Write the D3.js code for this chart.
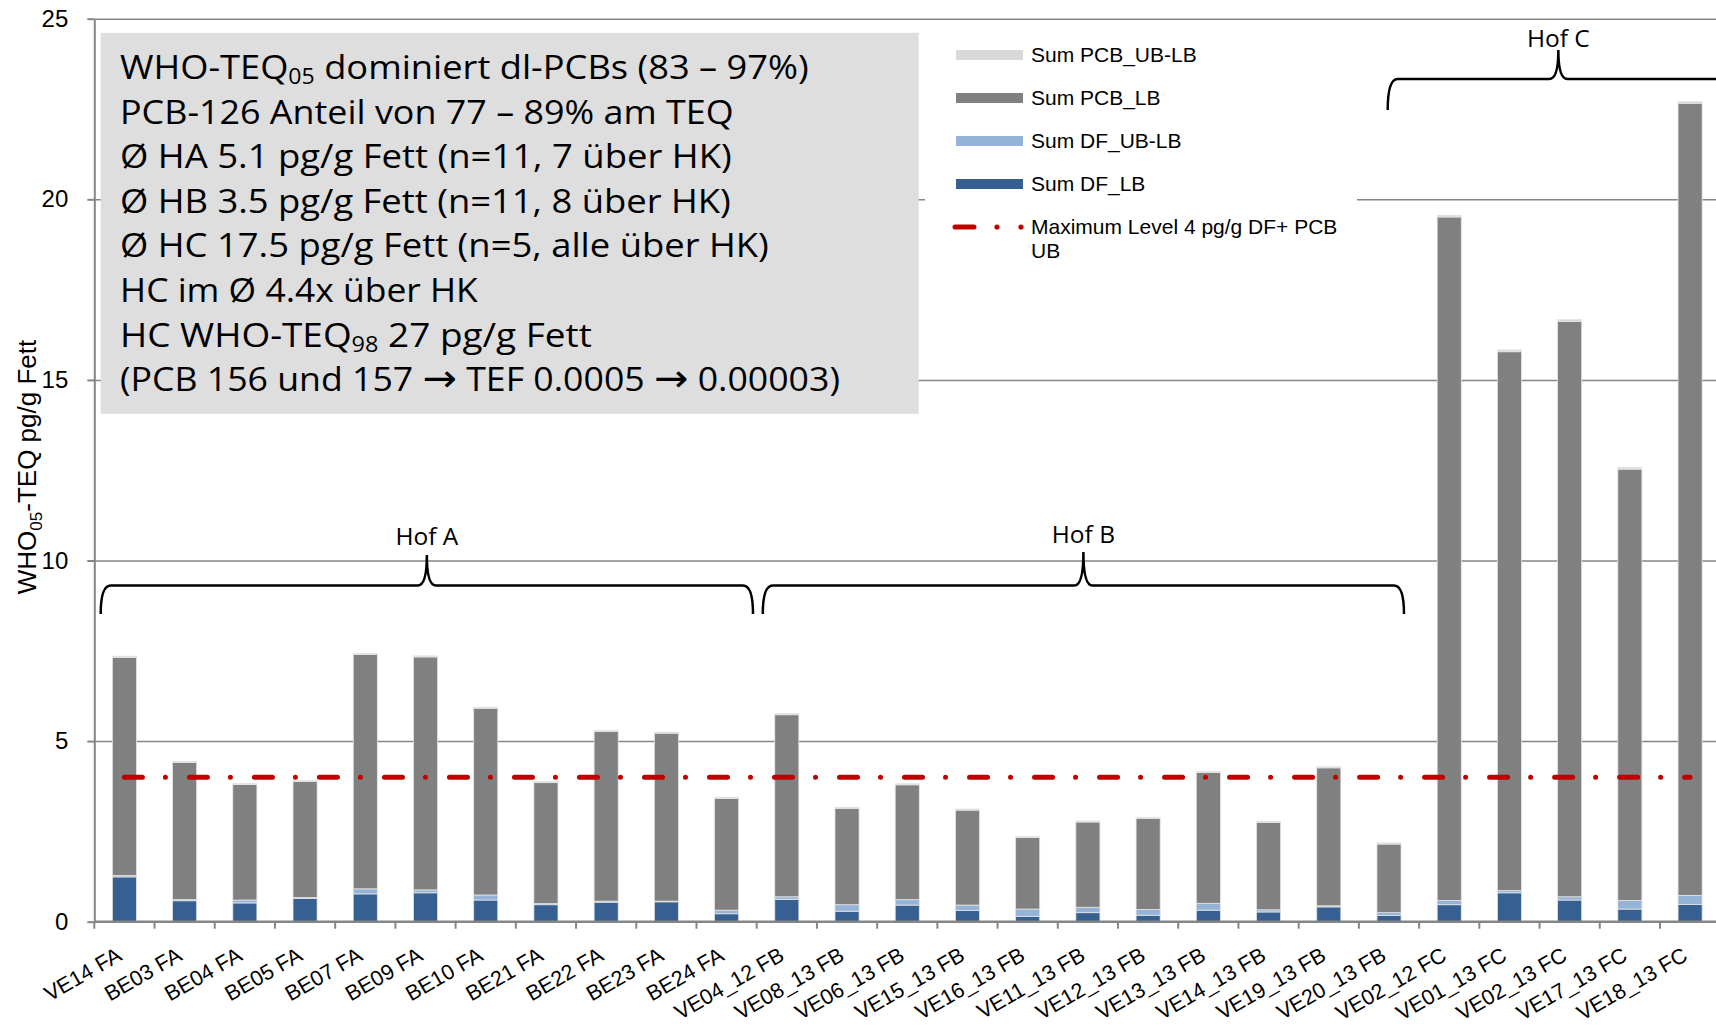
<!DOCTYPE html>
<html>
<head>
<meta charset="utf-8">
<script src="https://cdn.jsdelivr.net/npm/d3@7"></script>
<style>
body { margin: 0; background: #fff; overflow: hidden; }
svg { display: block; }
</style>
</head>
<body>
<script>
// sample ids, farms A (FA), B (FB), C (FC)
var categories = ["VE14 FA", "BE03 FA", "BE04 FA", "BE05 FA", "BE07 FA", "BE09 FA", "BE10 FA",
    "BE21 FA", "BE22 FA", "BE23 FA", "BE24 FA", "VE04_12 FB", "VE08_13 FB", "VE06_13 FB",
    "VE15_13 FB", "VE16_13 FB", "VE11_13 FB", "VE12_13 FB", "VE13_13 FB", "VE14_13 FB",
    "VE19_13 FB", "VE20_13 FB", "VE02_12 FC", "VE01_13 FC", "VE02_13 FC", "VE17_13 FC", "VE18_13 FC"];

var dfLB = [1.24, 0.58, 0.52, 0.64, 0.77, 0.80, 0.60, 0.47, 0.54, 0.55, 0.22, 0.62, 0.29, 0.46,
    0.31, 0.15, 0.25, 0.18, 0.32, 0.27, 0.41, 0.17, 0.47, 0.80, 0.60, 0.35, 0.48];
var dfUBLB = [0.04, 0.03, 0.08, 0.03, 0.14, 0.08, 0.14, 0.03, 0.03, 0.02, 0.10, 0.07, 0.18, 0.15,
    0.15, 0.20, 0.15, 0.16, 0.19, 0.06, 0.03, 0.08, 0.12, 0.06, 0.09, 0.24, 0.25];
var pcbLB = [6.04, 3.80, 3.20, 3.21, 6.49, 6.45, 5.17, 3.35, 4.70, 4.65, 3.09, 5.04, 2.67, 3.18,
    2.63, 1.98, 2.36, 2.52, 3.62, 2.42, 3.82, 1.90, 18.92, 14.92, 15.93, 11.94, 21.93];
var pcbUBLB = [0.03, 0.03, 0.03, 0.03, 0.03, 0.03, 0.03, 0.03, 0.03, 0.03, 0.04, 0.03, 0.03, 0.03,
    0.03, 0.03, 0.03, 0.03, 0.03, 0.03, 0.03, 0.03, 0.05, 0.05, 0.05, 0.05, 0.05];
var maxLevel = [4, 4, 4, 4, 4, 4, 4, 4, 4, 4, 4, 4, 4, 4, 4, 4, 4, 4, 4, 4, 4, 4, 4, 4, 4, 4, 4];

var seriesKeys = ["dfLB", "dfUBLB", "pcbLB", "pcbUBLB"];
var seriesColors = ["#376092", "#95b3d7", "#808080", "#d9d9d9"];
var legendNames = ["Sum PCB_UB-LB", "Sum PCB_LB", "Sum DF_UB-LB", "Sum DF_LB"];
var legendColors = ["#d9d9d9", "#808080", "#95b3d7", "#376092"];
var yTicks = [0, 5, 10, 15, 20, 25];

var farms = ["Hof A", "Hof B", "Hof C"];

// note lines: pieces of [text, kind]  (kind: "" normal, "sub" subscript, "arrow")
var notes = [
    [["WHO-TEQ", ""], ["05", "sub"], [" dominiert dl-PCBs (83 \u2013 97%)", ""]],
    [["PCB-126 Anteil von 77 \u2013 89% am TEQ", ""]],
    [["\u00d8 HA 5.1 pg/g Fett (n=11, 7 \u00fcber HK)", ""]],
    [["\u00d8 HB 3.5 pg/g Fett (n=11, 8 \u00fcber HK)", ""]],
    [["\u00d8 HC 17.5 pg/g Fett (n=5, alle \u00fcber HK)", ""]],
    [["HC im \u00d8 4.4x \u00fcber HK", ""]],
    [["HC WHO-TEQ", ""], ["98", "sub"], [" 27 pg/g Fett", ""]],
    [["(PCB 156 und 157 ", ""], ["\u2192", "arrow"], [" TEF 0.0005 ", ""], ["\u2192", "arrow"], [" 0.00003)", ""]]
];
var noteWidths = [689, 614, 612, 611, 649, 358, 472, 720];

var width = 1716, height = 1025;
var axisColor = "#868686";

var svg = d3.select("body").append("svg")
    .attr("width", width)
    .attr("height", height);

var x = d3.scaleBand()
    .domain(categories)
    .range([94.3, 1720.2])
    .paddingInner(0.6)
    .paddingOuter(0.3);

var y = d3.scaleLinear()
    .domain([0, 25])
    .range([921.7, 18.7]);

// gridlines
var grid = svg.append("g")
    .attr("class", "gridlines")
    .attr("transform", "translate(94.3,0)")
    .call(d3.axisLeft(y).tickValues(yTicks.slice(1)).tickFormat("").tickSize(-(width - 94)));
grid.select(".domain").remove();
grid.selectAll("line").attr("stroke", axisColor).attr("stroke-width", 1.5);

// stacked bars
var rows = categories.map(function (c, i) {
    return {cat: c, dfLB: dfLB[i], dfUBLB: dfUBLB[i], pcbLB: pcbLB[i], pcbUBLB: pcbUBLB[i]};
});
var stacked = d3.stack().keys(seriesKeys)(rows);

svg.append("g").attr("class", "bars")
    .selectAll("g")
    .data(stacked)
    .enter().append("g")
    .attr("fill", function (d, i) { return seriesColors[i]; })
    .selectAll("rect")
    .data(function (d) { return d; })
    .enter().append("rect")
    .attr("x", function (d) { return x(d.data.cat); })
    .attr("width", x.bandwidth())
    .attr("y", function (d) { return y(d[1]); })
    .attr("height", function (d) { return y(d[0]) - y(d[1]); })
    .attr("stroke", "#e4e4e4")
    .attr("stroke-width", 0.8);

// maximum level line
var line = d3.line()
    .x(function (d, i) { return x(categories[i]) + x.bandwidth() / 2; })
    .y(function (d) { return y(d); });

svg.append("path")
    .datum(maxLevel)
    .attr("d", line)
    .attr("fill", "none")
    .attr("stroke", "#c00000")
    .attr("stroke-width", 5)
    .attr("stroke-linecap", "round")
    .attr("stroke-dasharray", "18,23,0.01,24");

// y axis
var yAxis = svg.append("g")
    .attr("transform", "translate(94.3,0)")
    .call(d3.axisLeft(y).tickValues(yTicks).tickSize(7).tickPadding(19).tickSizeOuter(0));
yAxis.select(".domain").attr("stroke", axisColor).attr("stroke-width", 2);
yAxis.selectAll("line").attr("stroke", axisColor).attr("stroke-width", 2);
yAxis.selectAll("text")
    .attr("font-family", "'Liberation Sans', Arial, sans-serif")
    .attr("font-size", 24)
    .attr("fill", "#000");

// x axis
var step = x.step();
var bounds = categories.map(function (c) { return x(c) - (step - x.bandwidth()) / 2; });
svg.append("line")
    .attr("x1", 94.3).attr("x2", width)
    .attr("y1", y(0)).attr("y2", y(0))
    .attr("stroke", axisColor).attr("stroke-width", 2.5);
svg.append("g").selectAll("line")
    .data(bounds)
    .enter().append("line")
    .attr("x1", function (d) { return d; })
    .attr("x2", function (d) { return d; })
    .attr("y1", y(0))
    .attr("y2", y(0) + 7)
    .attr("stroke", axisColor).attr("stroke-width", 2);

svg.append("g").selectAll("text")
    .data(categories)
    .enter().append("text")
    .attr("transform", function (d) {
        return "translate(" + (x(d) + x.bandwidth() / 2 - 9) + "," + 946 + ") rotate(-30)";
    })
    .attr("text-anchor", "end")
    .attr("dy", "0.72em")
    .attr("font-family", "'Liberation Sans', Arial, sans-serif")
    .attr("font-size", 21.5)
    .text(function (d) { return d; });

// y title
var yTitle = svg.append("text")
    .attr("transform", "translate(36,467) rotate(-90)")
    .attr("text-anchor", "middle")
    .attr("font-family", "'Liberation Sans', Arial, sans-serif")
    .attr("font-size", 26);
yTitle.append("tspan").text("WHO");
yTitle.append("tspan").attr("font-size", 17).attr("dy", 6).text("05");
yTitle.append("tspan").attr("dy", -6).text("-TEQ pg/g Fett");

// farm braces
function brace(x1, x2, cx, yLine, yEnd, yTip) {
    var r = 10;
    return "M" + x1 + "," + yEnd +
        " Q" + x1 + "," + yLine + " " + (x1 + r) + "," + yLine +
        " L" + (cx - 9) + "," + yLine +
        " Q" + cx + "," + yLine + " " + cx + "," + yTip +
        " Q" + cx + "," + yLine + " " + (cx + 9) + "," + yLine +
        " L" + (x2 - r) + "," + yLine +
        " Q" + x2 + "," + yLine + " " + x2 + "," + yEnd;
}

var braceSpec = [
    {x1: 100.7, x2: 753, yLine: 585.5, yEnd: 614, yTip: 555, labelY: 545},
    {x1: 762.8, x2: 1404, yLine: 585.5, yEnd: 614, yTip: 552, labelY: 543},
    {x1: 1387.7, x2: 1729, yLine: 79, yEnd: 110, yTip: 50, labelY: 47}
];

farms.forEach(function (f, i) {
    var b = braceSpec[i];
    var cx = (b.x1 + b.x2) / 2;
    svg.append("path")
        .attr("d", brace(b.x1, b.x2, cx, b.yLine, b.yEnd, b.yTip))
        .attr("fill", "none")
        .attr("stroke", "#000")
        .attr("stroke-width", 2.5);
    svg.append("text")
        .attr("x", cx)
        .attr("y", b.labelY)
        .attr("text-anchor", "middle")
        .attr("font-family", "'Open Sans', sans-serif")
        .attr("font-size", 24.5)
        .text(f);
});

// note box
svg.append("rect")
    .attr("x", 100.7).attr("y", 32.8)
    .attr("width", 818).attr("height", 381)
    .attr("fill", "#dedede");

notes.forEach(function (n, i) {
    var g = svg.append("g").attr("transform", "translate(120," + (79 + i * 44.6) + ")");
    var t = g.append("text")
        .attr("font-family", "'Open Sans', sans-serif")
        .attr("font-size", 33)
        .attr("fill", "#000");
    var shift = 0;
    n.forEach(function (p) {
        var s = t.append("tspan").text(p[0]);
        if (p[1] === "sub") {
            s.attr("font-size", 21).attr("dy", 5);
            shift = 5;
        } else {
            if (shift) { s.attr("dy", -shift); shift = 0; }
            if (p[1] === "arrow") {
                s.attr("font-family", "'DejaVu Sans', sans-serif")
                    .attr("font-size", 38);
            }
        }
    });
    var w = t.node().getComputedTextLength();
    t.attr("transform", "scale(" + (noteWidths[i] / w) + ",1)");
});

// legend
var legend = svg.append("g").attr("class", "legend");
legend.append("rect")
    .attr("x", 925).attr("y", 31)
    .attr("width", 432).attr("height", 237)
    .attr("fill", "#fff");

var legendRows = [55, 98, 141, 184];
legendNames.forEach(function (name, i) {
    legend.append("rect")
        .attr("x", 956).attr("y", legendRows[i] - 5)
        .attr("width", 67).attr("height", 10)
        .attr("fill", legendColors[i]);
    legend.append("text")
        .attr("x", 1031).attr("y", legendRows[i])
        .attr("dy", "0.35em")
        .attr("font-family", "'Liberation Sans', Arial, sans-serif")
        .attr("font-size", 21)
        .text(name);
});

legend.append("line")
    .attr("x1", 955).attr("x2", 974)
    .attr("y1", 227).attr("y2", 227)
    .attr("stroke", "#c00000").attr("stroke-width", 5).attr("stroke-linecap", "round");
[997, 1021].forEach(function (d) {
    legend.append("circle").attr("cx", d).attr("cy", 227).attr("r", 2.6).attr("fill", "#c00000");
});
legend.append("text")
    .attr("x", 1031).attr("y", 227)
    .attr("dy", "0.35em")
    .attr("font-family", "'Liberation Sans', Arial, sans-serif")
    .attr("font-size", 21)
    .text("Maximum Level 4 pg/g DF+ PCB");
legend.append("text")
    .attr("x", 1031).attr("y", 251)
    .attr("dy", "0.35em")
    .attr("font-family", "'Liberation Sans', Arial, sans-serif")
    .attr("font-size", 21)
    .text("UB");
</script>
</body>
</html>
